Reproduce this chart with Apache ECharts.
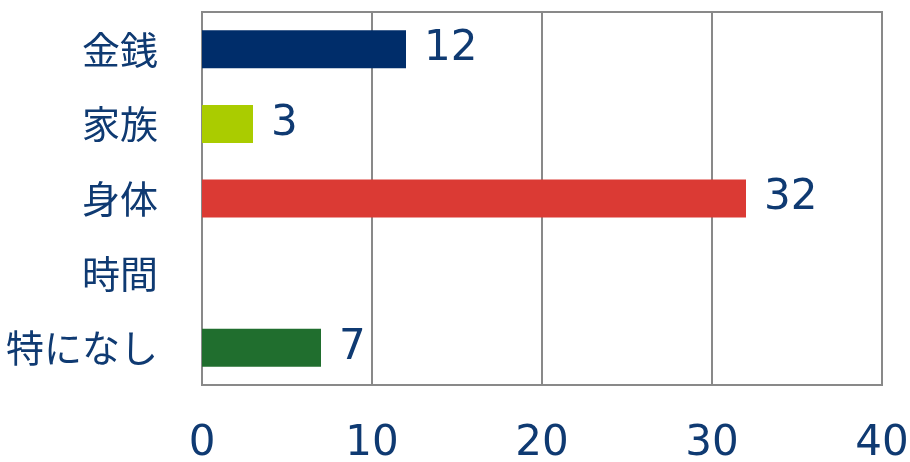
<!DOCTYPE html>
<html>
<head>
<meta charset="utf-8">
<script src="https://cdn.jsdelivr.net/npm/echarts@6/dist/echarts.min.js"></script>
<style>
  html, body { margin: 0; padding: 0; background: #fff; }
  #mainChart { width: 910px; height: 462px; }
</style>
</head>
<body>
<div id="mainChart"></div>
<script>
// カテゴリと値
var categories = ['金銭', '家族', '身体', '時間', '特になし']
var values = [12, 3, 32, null, 7]
var barColors = ['#002D6A', '#AACC00', '#DB3A34', '#7F7F7F', '#206E2E']
var xTicks = [0, 10, 20, 30, 40]

var textColor = '#0F3A72'
var lineColor = '#898989'

var chart = echarts.init(document.getElementById('mainChart'))

var option = {
  animation: false,
  grid: {
    left: 202,
    right: 28,
    top: 12,
    bottom: 77,
    outerBoundsMode: 'none',
    show: true,
    borderColor: lineColor,
    borderWidth: 2
  },
  xAxis: {
    type: 'value',
    min: xTicks[0],
    max: xTicks[xTicks.length - 1],
    interval: 10,
    axisLine: { show: true, lineStyle: { color: lineColor, width: 2 } },
    axisTick: { show: false },
    splitLine: { show: true, lineStyle: { color: lineColor, width: 2 } },
    axisLabel: {
      margin: 38,
      color: textColor,
      fontSize: 42,
      fontFamily: 'DejaVu Sans'
    }
  },
  yAxis: {
    type: 'category',
    inverse: true,
    data: categories,
    axisLine: { show: true, lineStyle: { color: lineColor, width: 2 } },
    axisTick: { show: false },
    axisLabel: {
      margin: 44,
      color: textColor,
      fontSize: 38,
      fontFamily: 'Noto Sans CJK JP'
    }
  },
  series: [
    {
      type: 'bar',
      barWidth: 38,
      data: values.map(function (v, i) {
        return { value: v, itemStyle: { color: barColors[i] } }
      }),
      label: {
        show: true,
        position: 'right',
        distance: 18,
        color: textColor,
        fontSize: 42,
        fontFamily: 'DejaVu Sans'
      }
    }
  ]
}

chart.setOption(option)
</script>
</body>
</html>
